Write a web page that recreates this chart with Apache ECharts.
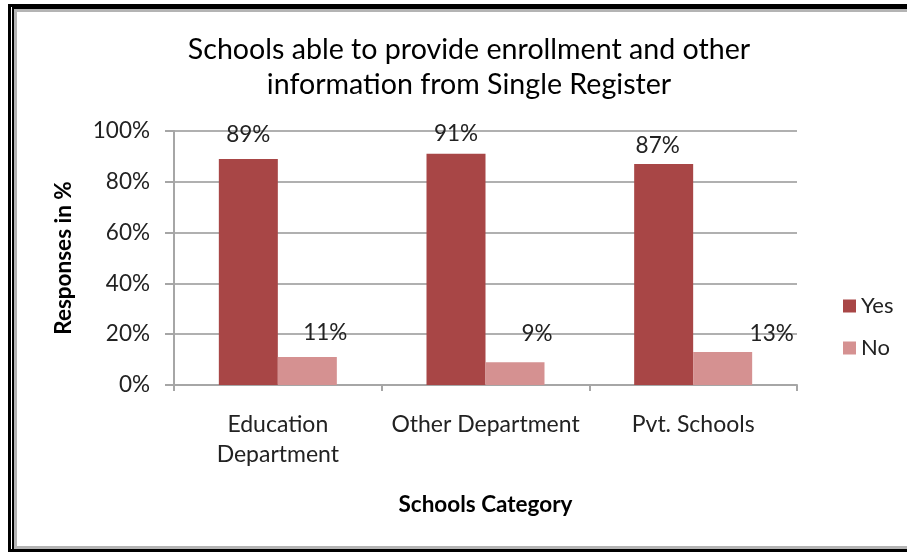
<!DOCTYPE html>
<html>
<head>
<meta charset="utf-8">
<script src="https://cdn.jsdelivr.net/npm/echarts@6/dist/echarts.min.js"></script>
<style>
html, body { margin: 0; padding: 0; background: #fff; overflow: hidden; }
.ln { position: absolute; }
#main { position: absolute; left: 0; top: 0; width: 907px; height: 552px; }
</style>
</head>
<body>
<!-- double frame round the chart -->
<div class="ln" style="left:8px;top:4px;width:3px;height:548px;background:#000"></div>
<div class="ln" style="left:8px;top:4px;width:899px;height:3px;background:#000"></div>
<div class="ln" style="left:12px;top:7px;width:2px;height:545px;background:#000"></div>
<div class="ln" style="left:12px;top:7px;width:895px;height:2px;background:#000"></div>
<div class="ln" style="left:14px;top:9px;width:3px;height:539px;background:#b4b4b4"></div>
<div class="ln" style="left:14px;top:9px;width:893px;height:3px;background:#b4b4b4"></div>
<div class="ln" style="left:14px;top:546px;width:893px;height:3px;background:#b4b4b4"></div>
<div class="ln" style="left:8px;top:549px;width:899px;height:3px;background:#000"></div>
<div id="main"></div>
<script>
var categories = ['Education\nDepartment', 'Other Department', 'Pvt. Schools'];
var yesValues = [89, 91, 87];
var noValues = [11, 9, 13];
var yTicks = [0, 20, 40, 60, 80, 100];

var yesColor = '#a84646';
var noColor = '#d59191';
var fontName = 'Lato';
var txt = 22.5; // common text size

// label nudges (the original labels sit a bit off their bars)
var yesNudge = [[0, 0], [0, 4], [-6, 6]];
var noNudge = [[18, 0], [22, -4], [49, 6]];

function makeData(values, nudge) {
	return values.map(function (v, i) {
		return { value: v, label: { offset: nudge[i] } };
	});
}

var chart = echarts.init(document.getElementById('main'));

var option = {
	backgroundColor: 'transparent',
	animation: false,
	title: {
		text: 'Schools able to provide enrollment and other\ninformation from Single Register',
		left: 464,
		textAlign: 'center',
		top: 27,
		textStyle: {
			fontFamily: fontName,
			fontSize: 28.6,
			fontWeight: 'normal',
			color: '#000',
			lineHeight: 35
		}
	},
	legend: {
		orient: 'vertical',
		left: 838,
		top: 290,
		itemWidth: 13,
		itemHeight: 13,
		itemGap: 20,
		icon: 'rect',
		textStyle: { fontFamily: fontName, fontSize: 22, color: '#222' },
		data: ['Yes', 'No']
	},
	grid: { left: 174, right: 110, top: 131, bottom: 167 },
	xAxis: {
		type: 'category',
		data: categories,
		name: 'Schools Category',
		nameLocation: 'middle',
		nameGap: 108,
		nameTextStyle: { fontFamily: fontName, fontSize: txt, fontWeight: 'bold', color: '#000' },
		axisLine: { lineStyle: { color: '#a6a6a6', width: 2 } },
		axisTick: { show: true, length: 6, lineStyle: { color: '#a6a6a6', width: 2 } },
		axisLabel: { fontFamily: fontName, fontSize: 23, color: '#222', lineHeight: 30, margin: 25, interval: 0 }
	},
	yAxis: {
		type: 'value',
		min: yTicks[0],
		max: yTicks[yTicks.length - 1],
		interval: 20,
		name: 'Responses in %',
		nameLocation: 'middle',
		nameGap: 99,
		nameTextStyle: { fontFamily: fontName, fontSize: txt, fontWeight: 'bold', color: '#000' },
		axisLine: { show: true, lineStyle: { color: '#a6a6a6', width: 2 } },
		axisTick: { show: true, length: 9, lineStyle: { color: '#a6a6a6', width: 2 } },
		axisLabel: { fontFamily: fontName, fontSize: txt, color: '#222', margin: 24, formatter: '{value}%' },
		splitLine: { lineStyle: { color: '#b0b0b0', width: 2 } }
	},
	series: [{
		name: 'Yes',
		type: 'bar',
		barWidth: 59,
		barGap: '0%',
		itemStyle: { color: yesColor },
		label: {
			show: true, position: 'top', distance: 13,
			fontFamily: fontName, fontSize: txt, color: '#222',
			formatter: '{c}%'
		},
		data: makeData(yesValues, yesNudge)
	}, {
		name: 'No',
		type: 'bar',
		barWidth: 59,
		barGap: '0%',
		itemStyle: { color: noColor },
		label: {
			show: true, position: 'top', distance: 13,
			fontFamily: fontName, fontSize: txt, color: '#222',
			formatter: '{c}%'
		},
		data: makeData(noValues, noNudge)
	}]
};

chart.setOption(option);
window.addEventListener('resize', function () {
	chart.resize();
});
</script>
</body>
</html>
